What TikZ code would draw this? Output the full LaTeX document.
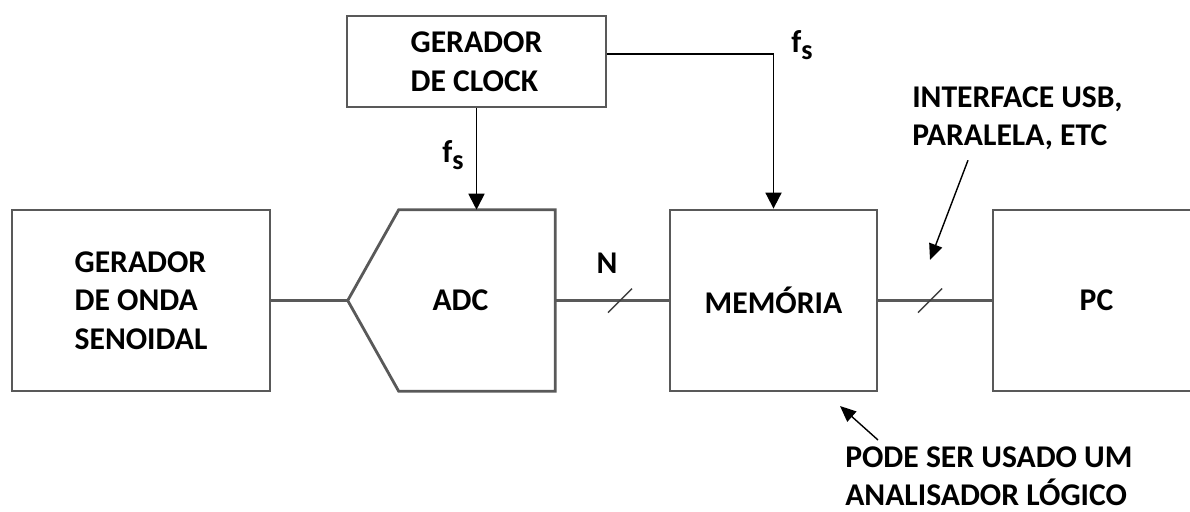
\documentclass[tikz,border=0pt]{standalone}
\usepackage{fontspec}
\setmainfont{Carlito}
\usetikzlibrary{arrows.meta}
\newcommand{\fsub}{f\raisebox{-0.5ex}{\fontsize{20}{20}\selectfont s}}

\begin{document}
\begin{tikzpicture}[>={Triangle[length=4mm,width=4mm]},
    font=\fontsize{22.5}{27.5}\selectfont\bfseries,
    block/.style={draw=black!65, line width=2pt, minimum width=5.175cm, minimum height=4.525cm, align=left},
    wire/.style={draw=black!65, line width=1.6pt},
    clk/.style={->, line width=1.3pt},
    busmark/.style={draw=black!75, line width=1pt},
    note/.style={->, line width=1pt, >={Triangle[length=4mm,width=3.4mm]}},
    notetext/.style={anchor=north west, inner sep=0pt, align=left}]
    \useasboundingbox (0,0) rectangle (29.75,-12.775);

    \node[block, minimum width=6.45cm] (gerador) at (3.525,-7.5125) {GERADOR\\DE ONDA\\SENOIDAL};
    \node[minimum width=5.175cm, minimum height=4.525cm] (adc) at (11.2875,-7.5125) {\hspace*{0.45cm}ADC};
    \draw[draw=black!65, line width=2pt] ([xshift=1.275cm]adc.north west) -- (adc.north east)
        -- (adc.south east) -- ([xshift=1.275cm]adc.south west) -- (adc.west) -- cycle;
    \node[block] (memoria) at (19.3375,-7.5125) {MEMÓRIA};
    \node[block] (pc) at (27.4125,-7.5125) {PC};
    \node[block, minimum width=6.475cm, minimum height=2.275cm] (clock) at (11.9125,-1.5375) {GERADOR\\DE CLOCK};

    \draw[wire] (gerador.east) -- (adc.west);
    \draw[wire] (adc.east) -- (memoria.west);
    \draw[wire] (memoria.east) -- (pc.west);
    \draw[clk] (clock.south) -- (clock.south |- adc.north);
    \draw[clk] ([yshift=0.19cm]clock.east) -| (memoria.north);

    \node (fsadc) at (11.325,-3.875) {\fsub};
    \node (fsmem) at (20.05,-1.125) {\fsub};
    \node (nbits) at (15.175,-6.575) {N};

    \coordinate (bus1) at (15.5,-7.5125);
    \coordinate (bus2) at (23.25,-7.5125);
    \foreach \b in {bus1,bus2}
        \draw[busmark] ([shift={(-0.3,-0.3)}]\b) -- ([shift={(0.3,0.3)}]\b);

    \node[notetext] (usb) at (22.8,-2.15) {INTERFACE USB,\\PARALELA, ETC};
    \coordinate (usbtip) at (23.25,-6.5);
    \draw[note] ([xshift=1.4cm,yshift=-0.25cm]usb.south west) -- (usbtip);

    \node[notetext] (pode) at (21.125,-11.15) {PODE SER USADO UM\\ANALISADOR LÓGICO};
    \coordinate (logictip) at (21,-10.15);
    \draw[note] ([xshift=0.825cm,yshift=0.15cm]pode.north west) -- (logictip);
\end{tikzpicture}
\end{document}
